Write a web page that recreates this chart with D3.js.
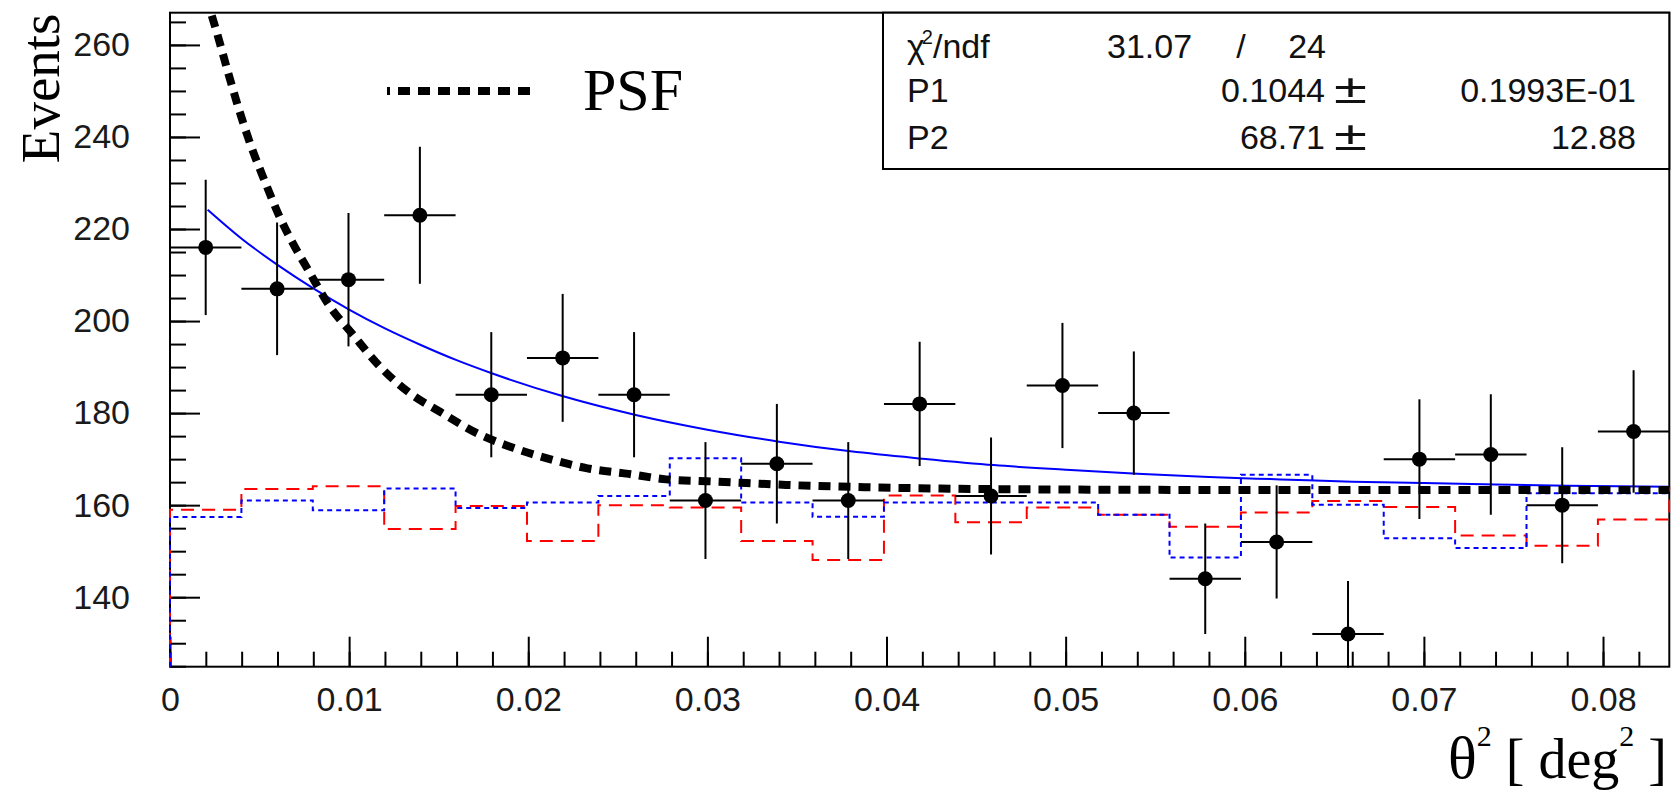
<!DOCTYPE html>
<html>
<head>
<meta charset="utf-8">
<script src="https://cdn.jsdelivr.net/npm/d3@7"></script>
<style>
  html, body { margin: 0; padding: 0; background: #fff; }
  svg { display: block; }
</style>
</head>
<body>
<svg id="chart" width="1677" height="792"></svg>
<script>
// θ² distribution: 21 equal bins over [0, thetaMax] deg²
const thetaMax = 0.0837;
const nBins = 21;

// Event counts per bin with their statistical errors
const onCounts = [216, 207, 209, 223, 184, 192, 184, 161, 169, 161, 182, 162, 186, 180, 144, 152, 132, 170, 171, 160, 176];
const onErrors = [14.7, 14.4, 14.5, 14.9, 13.6, 13.9, 13.6, 12.7, 13.0, 12.7, 13.5, 12.7, 13.6, 13.4, 12.0, 12.3, 11.5, 13.0, 13.1, 12.6, 13.3];

// Two background estimates per bin (last entry = overflow bin)
const bgRed  = [159.0, 163.5, 164.1, 154.8, 159.8, 152.2, 160.0, 159.5, 152.2, 148.1, 162.1, 156.3, 159.5, 157.9, 155.3, 158.4, 160.9, 159.6, 153.4, 151.2, 156.9, 163.7];
const bgBlue = [157.4, 161.0, 158.9, 163.6, 159.4, 160.6, 162.0, 170.2, 160.6, 157.5, 160.6, 160.6, 160.6, 157.9, 148.6, 166.6, 160.1, 152.8, 150.7, 162.6, 162.6, 162.6];

// Fitted function, sampled along θ²
const fitX = [0.0021, 0.004, 0.006, 0.008, 0.010, 0.012, 0.014, 0.016, 0.018, 0.022, 0.026, 0.030, 0.034, 0.038, 0.042, 0.046, 0.050, 0.054, 0.058, 0.062, 0.066, 0.070, 0.074, 0.078, 0.0837];
const fitY = [224.2, 217.9, 212.2, 207.1, 202.5, 198.4, 194.8, 191.5, 188.6, 183.6, 179.6, 176.4, 173.8, 171.7, 170.1, 168.7, 167.7, 166.8, 166.1, 165.6, 165.1, 164.8, 164.5, 164.2, 164.0];

// Point-spread function on top of the background level
const psfX = [0.0020, 0.0026, 0.0032, 0.0038, 0.0045, 0.0053, 0.0061, 0.0069, 0.0077, 0.0089, 0.0102, 0.0117, 0.0133, 0.0152, 0.0171, 0.0192, 0.0213, 0.0233, 0.0256, 0.0277, 0.0300, 0.0322, 0.0344, 0.0388, 0.0430, 0.0500, 0.0600, 0.0700, 0.0837];
const psfY = [270.5, 262.9, 254.6, 246.6, 238.3, 230.3, 222.8, 216.6, 211.2, 203.3, 197.1, 190.2, 184.6, 180.0, 175.7, 172.4, 169.9, 168.0, 166.8, 165.6, 165.2, 164.8, 164.4, 163.9, 163.6, 163.4, 163.3, 163.3, 163.3];

// Axis ticks
const xMajor = [0, 0.01, 0.02, 0.03, 0.04, 0.05, 0.06, 0.07, 0.08];
const xTickLabels = ["0", "0.01", "0.02", "0.03", "0.04", "0.05", "0.06", "0.07", "0.08"];
const yMajor = [140, 160, 180, 200, 220, 240, 260];
const yTickLabels = ["140", "160", "180", "200", "220", "240", "260"];

// Fit statistics
const statRows = [
  { name: "P1", value: "0.1044", error: "0.1993E-01" },
  { name: "P2", value: "68.71", error: "12.88" }
];
const chi2 = "31.07", ndf = "24";

// ---------------------------------------------------------------
const W = 1677, H = 792;
const X0 = 170, X1 = 1669.3, Y0 = 666.7, Y1 = 12.7;
const binWidth = thetaMax / nBins;

const svg = d3.select("#chart");
svg.append("rect").attr("width", W).attr("height", H).attr("fill", "#fff");

const x = d3.scaleLinear().domain([0, thetaMax]).range([X0, X1]);
const y = d3.scaleLinear().domain([124.9, 267.0]).range([Y0, Y1]);

const sansFont = "'Liberation Sans', Arial, sans-serif";
const serifFont = "'Liberation Serif', 'Times New Roman', serif";

// Frame
svg.append("rect")
  .attr("x", X0).attr("y", Y1)
  .attr("width", X1 - X0).attr("height", Y0 - Y1)
  .attr("fill", "none").attr("stroke", "#000").attr("stroke-width", 2);

// Axes (ticks point into the frame)
function styleAxis(g) {
  g.select(".domain").remove();
  g.selectAll(".tick line").attr("stroke", "#000").attr("stroke-width", 2);
  g.selectAll(".tick text")
    .attr("fill", "#1a1a1a")
    .attr("font-family", sansFont)
    .attr("font-size", 34);
}

const xMinor = d3.range(0, thetaMax, 0.002);
svg.append("g").attr("transform", `translate(0,${Y0})`)
  .call(d3.axisBottom(x).tickValues(xMinor).tickSize(-15).tickFormat(""))
  .call(styleAxis);
svg.append("g").attr("transform", `translate(0,${Y0})`)
  .call(d3.axisBottom(x).tickValues(xMajor).tickSize(-30).tickPadding(20.5)
    .tickFormat((d, i) => xTickLabels[i]))
  .call(styleAxis);

const yMinor = d3.range(125, 267, 5);
svg.append("g").attr("transform", `translate(${X0},0)`)
  .call(d3.axisLeft(y).tickValues(yMinor).tickSize(-16).tickFormat(""))
  .call(styleAxis);
svg.append("g").attr("transform", `translate(${X0},0)`)
  .call(d3.axisLeft(y).tickValues(yMajor).tickSize(-30).tickPadding(40)
    .tickFormat((d, i) => yTickLabels[i]))
  .call(styleAxis);

// Plot area clip
svg.append("clipPath").attr("id", "plot-clip")
  .append("rect").attr("x", X0 - 1).attr("y", Y1 - 1)
  .attr("width", X1 - X0 + 2).attr("height", Y0 - Y1 + 2);
const plot = svg.append("g").attr("clip-path", "url(#plot-clip)");

// Background histograms drawn as step outlines
const edges = d3.range(bgRed.length + 1).map(i => i * binWidth);
function stepPoints(vals) {
  const pts = [[0, y.domain()[0]]];
  vals.forEach((v, i) => pts.push([edges[i], v]));
  pts.push([edges[vals.length], vals[vals.length - 1]]);
  return pts;
}
const stepLine = d3.line().x(d => x(d[0])).y(d => y(d[1])).curve(d3.curveStepAfter);

plot.append("path").attr("d", stepLine(stepPoints(bgRed)))
  .attr("fill", "none").attr("stroke", "#ff0000").attr("stroke-width", 2)
  .attr("stroke-dasharray", "13,8");
plot.append("path").attr("d", stepLine(stepPoints(bgBlue)))
  .attr("fill", "none").attr("stroke", "#0000ff").attr("stroke-width", 2)
  .attr("stroke-dasharray", "5,4");

// Fit curve
const smoothLine = d3.line().x(d => x(d[0])).y(d => y(d[1])).curve(d3.curveMonotoneX);
plot.append("path").attr("d", smoothLine(fitX.map((v, i) => [v, fitY[i]])))
  .attr("fill", "none").attr("stroke", "#0000ff").attr("stroke-width", 2);

// PSF curve
plot.append("path").attr("d", smoothLine(psfX.map((v, i) => [v, psfY[i]])))
  .attr("fill", "none").attr("stroke", "#000").attr("stroke-width", 8)
  .attr("stroke-dasharray", "12,8");

// Data points with error bars
const pts = onCounts.map((v, i) => ({
  lo: edges[i], hi: edges[i + 1], c: (i + 0.5) * binWidth, v, e: onErrors[i]
}));
const pg = plot.append("g");
pg.selectAll("line.h").data(pts).join("line").attr("class", "h")
  .attr("x1", d => x(d.lo)).attr("x2", d => x(d.hi))
  .attr("y1", d => y(d.v)).attr("y2", d => y(d.v))
  .attr("stroke", "#000").attr("stroke-width", 2);
pg.selectAll("line.v").data(pts).join("line").attr("class", "v")
  .attr("x1", d => x(d.c)).attr("x2", d => x(d.c))
  .attr("y1", d => y(d.v - d.e)).attr("y2", d => y(d.v + d.e))
  .attr("stroke", "#000").attr("stroke-width", 2);
pg.selectAll("circle").data(pts).join("circle")
  .attr("cx", d => x(d.c)).attr("cy", d => y(d.v)).attr("r", 7.5)
  .attr("fill", "#000");

// Legend
svg.append("line")
  .attr("x1", 387).attr("x2", 530).attr("y1", 91).attr("y2", 91)
  .attr("stroke", "#000").attr("stroke-width", 8)
  .attr("stroke-dasharray", "12,8").attr("stroke-dashoffset", 9);
svg.append("text").attr("x", 583).attr("y", 110)
  .attr("font-family", serifFont).attr("font-size", 60).attr("fill", "#000")
  .text("PSF");

// Axis titles
svg.append("text")
  .attr("transform", "translate(59,13.5) rotate(-90)")
  .attr("text-anchor", "end")
  .attr("font-family", serifFont).attr("font-size", 55).attr("fill", "#000")
  .text("Events");

const xt = svg.append("text")
  .attr("x", 1667).attr("y", 778).attr("text-anchor", "end")
  .attr("font-family", serifFont).attr("font-size", 56).attr("fill", "#000");
xt.append("tspan").attr("font-size", 60).text("θ");
xt.append("tspan").attr("font-size", 30).attr("dy", -32).text("2");
xt.append("tspan").attr("dy", 32).text(" [ deg");
xt.append("tspan").attr("font-size", 30).attr("dy", -32).text("2");
xt.append("tspan").attr("dy", 32).text(" ]");

// Statistics box
const BX0 = 883, BY1 = 169;
svg.append("rect")
  .attr("x", BX0).attr("y", Y1).attr("width", X1 - BX0).attr("height", BY1 - Y1)
  .attr("fill", "#fff").attr("stroke", "#000").attr("stroke-width", 2);

const sg = svg.append("g").attr("font-family", sansFont).attr("font-size", 34).attr("fill", "#111");
const rowBase = [58, 102, 149];

const chiText = sg.append("text").attr("x", 907).attr("y", rowBase[0]);
chiText.append("tspan").text("χ");
chiText.append("tspan").attr("font-size", 20).attr("dx", -3).attr("dy", -14).text("2");
chiText.append("tspan").attr("dy", 14).text("/ndf");
sg.append("text").attr("x", 1107).attr("y", rowBase[0]).text(chi2);
sg.append("text").attr("x", 1241).attr("y", rowBase[0]).attr("text-anchor", "middle").text("/");
sg.append("text").attr("x", 1326).attr("y", rowBase[0]).attr("text-anchor", "end").text(ndf);

statRows.forEach((r, i) => {
  const b = rowBase[i + 1];
  sg.append("text").attr("x", 907).attr("y", b).text(r.name);
  sg.append("text").attr("x", 1325).attr("y", b).attr("text-anchor", "end").text(r.value);
  sg.append("text").attr("x", 1334).attr("y", b + 1).attr("font-size", 40)
    .attr("textLength", 33).attr("lengthAdjust", "spacingAndGlyphs").text("±");
  sg.append("text").attr("x", 1636).attr("y", b).attr("text-anchor", "end").text(r.error);
});
</script>
</body>
</html>
